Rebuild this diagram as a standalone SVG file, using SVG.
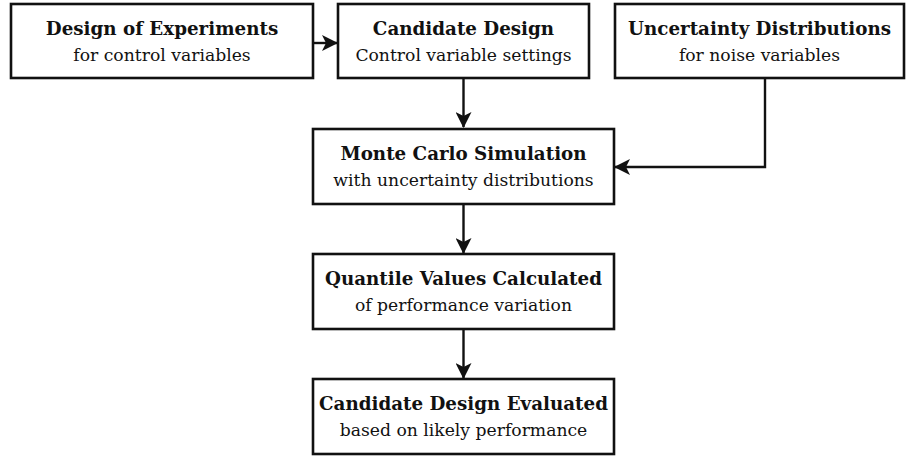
<svg xmlns="http://www.w3.org/2000/svg" width="906" height="456" viewBox="0 0 906 456">
  <style>
    .box { fill: #fff; stroke: #111; stroke-width: 2.6; }
    .wire { fill: none; stroke: #111; stroke-width: 2.4; }
    .t1 { font-family: "DejaVu Serif", Georgia, serif; font-weight: bold; font-size: 18.3px; fill: #111; text-anchor: middle; }
    .t2 { font-family: "DejaVu Serif", Georgia, serif; font-size: 17.2px; fill: #111; text-anchor: middle; }
  </style>
  <defs>
    <marker id="arrow" viewBox="0 0 16 16" refX="15" refY="8" markerWidth="16" markerHeight="16" markerUnits="userSpaceOnUse" orient="auto">
      <path d="M0,0 L16,8 L0,16 L4,8 Z" fill="#111"/>
    </marker>
  </defs>

  <g id="connectors">
    <line class="wire" x1="313" y1="43" x2="337" y2="43" marker-end="url(#arrow)"/>
    <line class="wire" x1="463.5" y1="78" x2="463.5" y2="127" marker-end="url(#arrow)"/>
    <polyline class="wire" points="765,78 765,167 615,167" marker-end="url(#arrow)"/>
    <line class="wire" x1="463.5" y1="204" x2="463.5" y2="253" marker-end="url(#arrow)"/>
    <line class="wire" x1="463.5" y1="329" x2="463.5" y2="378" marker-end="url(#arrow)"/>
  </g>

  <g id="doe">
    <rect class="box" x="11" y="4" width="302" height="74"/>
    <text class="t1" x="162" y="35">Design of Experiments</text>
    <text class="t2" x="162" y="61">for control variables</text>
  </g>

  <g id="candidate">
    <rect class="box" x="338" y="4" width="251" height="74"/>
    <text class="t1" x="463.5" y="35">Candidate Design</text>
    <text class="t2" x="463.5" y="61">Control variable settings</text>
  </g>

  <g id="uncertainty">
    <rect class="box" x="615" y="4" width="289" height="74"/>
    <text class="t1" x="759.5" y="35">Uncertainty Distributions</text>
    <text class="t2" x="759.5" y="61">for noise variables</text>
  </g>

  <g id="montecarlo">
    <rect class="box" x="313" y="129" width="301" height="75"/>
    <text class="t1" x="463.5" y="160">Monte Carlo Simulation</text>
    <text class="t2" x="463.5" y="186">with uncertainty distributions</text>
  </g>

  <g id="quantile">
    <rect class="box" x="313" y="254" width="301" height="75"/>
    <text class="t1" x="463.5" y="285">Quantile Values Calculated</text>
    <text class="t2" x="463.5" y="311">of performance variation</text>
  </g>

  <g id="evaluated">
    <rect class="box" x="313" y="379" width="301" height="75"/>
    <text class="t1" x="463.5" y="410">Candidate Design Evaluated</text>
    <text class="t2" x="463.5" y="436">based on likely performance</text>
  </g>
</svg>
